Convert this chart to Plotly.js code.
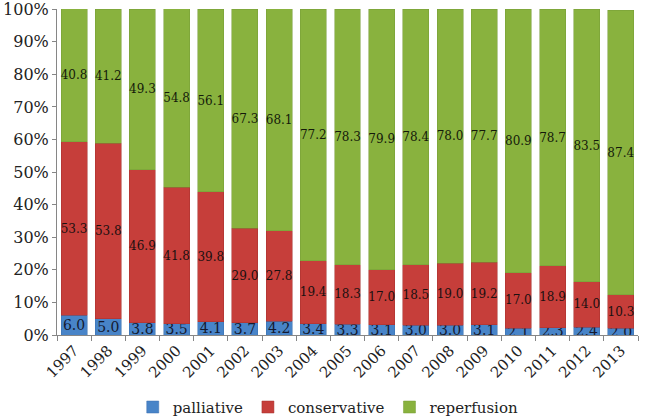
<!DOCTYPE html>
<html>
<head>
<meta charset="utf-8">
<script src="https://cdn.plot.ly/plotly-3.0.1.min.js"></script>
<style>html,body{margin:0;padding:0;background:#fff;}#chart{width:650px;height:419px;}</style>
</head>
<body>
<div id="chart"></div>
<script>
const years = ['1997','1998','1999','2000','2001','2002','2003','2004','2005','2006','2007','2008','2009','2010','2011','2012','2013'];
const palliative   = [6.0, 5.0, 3.8, 3.5, 4.1, 3.7, 4.2, 3.4, 3.3, 3.1, 3.0, 3.0, 3.1, 2.1, 2.3, 2.4, 2.0];
const conservative = [53.3, 53.8, 46.9, 41.8, 39.8, 29.0, 27.8, 19.4, 18.3, 17.0, 18.5, 19.0, 19.2, 17.0, 18.9, 14.0, 10.3];
const reperfusion  = [40.8, 41.2, 49.3, 54.8, 56.1, 67.3, 68.1, 77.2, 78.3, 79.9, 78.4, 78.0, 77.7, 80.9, 78.7, 83.5, 87.4];
const yTickVals = [0, 10, 20, 30, 40, 50, 60, 70, 80, 90, 100];
const yTickText = ['0%','10%','20%','30%','40%','50%','60%','70%','80%','90%','100%'];

const serif = 'DejaVu Serif';
function trace(name, vals, color, line, size, tcolor) {
  return {
    type: 'bar', name: name, x: years, y: vals,
    marker: {color: color, line: {color: line, width: 0.5}},
    text: vals.map(v => v.toFixed(1)),
    textposition: 'inside', insidetextanchor: 'middle',
    textangle: 0, constraintext: 'none',
    textfont: {family: serif, size: size, color: tcolor},
    hoverinfo: 'none'
  };
}
const data = [
  trace('palliative', palliative, '#4884c8', '#3a6fae', 14, '#141a30'),
  trace('conservative', conservative, '#c63e3a', '#a5302d', 12, '#1a1010'),
  trace('reperfusion', reperfusion, '#89b23e', '#769c35', 12, '#141a0a')
];
const layout = {
  width: 650, height: 419,
  font: {family: serif, size: 16, color: '#222'},
  margin: {l: 57, r: 12, t: 9, b: 84},
  barmode: 'stack', bargap: 0.24,
  paper_bgcolor: '#fff', plot_bgcolor: '#fff',
  showlegend: true,
  legend: {orientation: 'h', xref: 'container', x: 0.505, xanchor: 'center',
           yref: 'container', y: 0.028, yanchor: 'middle',
           font: {family: serif, size: 15, color: '#222'}, traceorder: 'normal'},
  xaxis: {
    type: 'category', tickangle: -45, tickfont: {family: serif, size: 15, color: '#222'},
    showline: true, linecolor: '#868686', linewidth: 1,
    ticks: 'outside', ticklen: 5, tickcolor: '#868686', tickson: 'boundaries',
    showgrid: false, zeroline: false
  },
  yaxis: {
    range: [0, 100.05], tickmode: 'array', tickvals: yTickVals, ticktext: yTickText,
    tickfont: {family: serif, size: 16, color: '#222'}, ticklabeloverflow: 'allow',
    showline: true, linecolor: '#868686', linewidth: 1,
    ticks: 'outside', ticklen: 4, tickcolor: '#868686',
    showgrid: false, zeroline: false
  }
};
Plotly.newPlot('chart', data, layout, {displayModeBar: false, staticPlot: true});
</script>
</body>
</html>
